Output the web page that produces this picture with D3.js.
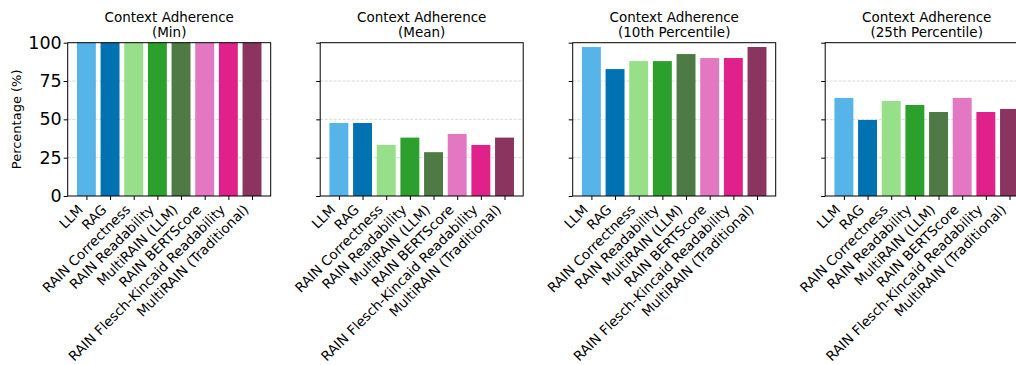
<!DOCTYPE html>
<html>
<head>
<meta charset="utf-8">
<script src="https://cdn.jsdelivr.net/npm/d3@7"></script>
<style>
  html, body { margin: 0; padding: 0; background: #fff; }
  svg { display: block; }
  text { font-family: "DejaVu Sans", sans-serif; fill: #000; }
</style>
</head>
<body>
<script>
// Methods compared in every panel
const methods = [
  "LLM", "RAG", "RAIN Correctness", "RAIN Readability", "MultiRAIN (LLM)",
  "RAIN BERTScore", "RAIN Flesch-Kincaid Readability", "MultiRAIN (Traditional)"
];
const methodColors = [
  "#56B4E9", "#0072B2", "#98DF8A", "#2CA02C", "#4E7B45",
  "#E377C2", "#E0218A", "#8B3460"
];

// Panel titles (statistic shown)
const panelTitles = ["(Min)", "(Mean)", "(10th Percentile)", "(25th Percentile)"];

// Context adherence (%) per statistic
const minValues = [100, 100, 100, 100, 100, 100, 100, 100];
const meanValues = [47.6, 47.6, 33.3, 38.1, 28.6, 40.5, 33.3, 38.1];
const p10Values = [97.2, 82.8, 88.0, 88.0, 92.6, 90.0, 90.0, 97.2];
const p25Values = [64.0, 49.6, 62.0, 59.4, 54.8, 64.0, 54.8, 56.8];

const yTicks = [0, 25, 50, 75, 100];

const panelValues = [minValues, meanValues, p10Values, p25Values];

const W = 1016, H = 365;
const svg = d3.select("body").append("svg").attr("width", W).attr("height", H);

const plotTop = 42.7, plotBottom = 196, plotW = 203;
const firstLeft = 67.7, panelStep = 252.5;

const y = d3.scaleLinear().domain([0, 100]).range([plotBottom, plotTop]);

panelValues.forEach((vals, p) => {
  const left = firstLeft + p * panelStep;
  const g = svg.append("g");

  // matplotlib-style band: bars of width 0.8 with 5% margins
  const x = d3.scaleLinear()
    .domain([-0.79, methods.length - 1 + 0.79])
    .range([left, left + plotW]);

  // dashed horizontal grid
  g.selectAll("line.grid").data(yTicks.filter(t => t > 0 && t < 100)).join("line")
    .attr("class", "grid")
    .attr("x1", left).attr("x2", left + plotW)
    .attr("y1", d => y(d)).attr("y2", d => y(d))
    .attr("stroke", "#b0b0b0").attr("stroke-opacity", 0.6)
    .attr("stroke-width", 0.8).attr("stroke-dasharray", "3,1.5");

  // bars
  g.selectAll("rect.bar").data(vals).join("rect")
    .attr("class", "bar")
    .attr("x", (d, i) => x(i - 0.4))
    .attr("width", (d, i) => x(i + 0.4) - x(i - 0.4))
    .attr("y", d => y(d))
    .attr("height", d => y(0) - y(d))
    .attr("fill", (d, i) => methodColors[i]);

  // y axis
  const yAxis = d3.axisLeft(y).tickValues(yTicks).tickSize(4).tickPadding(2)
    .tickFormat(p === 0 ? d3.format("d") : () => "");
  const ya = g.append("g").attr("transform", `translate(${left},0)`).call(yAxis);
  ya.select(".domain").remove();
  ya.selectAll(".tick line").attr("stroke", "#000").attr("stroke-width", 1);
  ya.selectAll(".tick text").attr("font-size", 17.5).attr("font-family", "DejaVu Sans")
    .attr("fill", "#000");

  // x axis ticks
  const xAxis = d3.axisBottom(x).tickValues(d3.range(methods.length)).tickSize(4)
    .tickFormat(() => "");
  const xa = g.append("g").attr("transform", `translate(0,${plotBottom})`).call(xAxis);
  xa.select(".domain").remove();
  xa.selectAll(".tick line").attr("stroke", "#000").attr("stroke-width", 1);

  // rotated category labels
  g.selectAll("text.xl").data(methods).join("text")
    .attr("class", "xl")
    .attr("font-size", 13.6)
    .attr("text-anchor", "end")
    .attr("transform", (d, i) => `translate(${x(i) - 2.5},${plotBottom + 14.5}) rotate(-45)`)
    .text(d => d);

  // frame
  g.append("rect")
    .attr("x", left).attr("y", plotTop)
    .attr("width", plotW).attr("height", plotBottom - plotTop)
    .attr("fill", "none").attr("stroke", "#000").attr("stroke-width", 1);

  // title
  const cx = left + plotW / 2;
  g.append("text").attr("x", cx).attr("y", 22).attr("text-anchor", "middle")
    .attr("font-size", 13.5).text("Context Adherence");
  g.append("text").attr("x", cx).attr("y", 37).attr("text-anchor", "middle")
    .attr("font-size", 13.5).text(panelTitles[p]);
});

// shared y label
svg.append("text")
  .attr("transform", `translate(21,${(plotTop + plotBottom) / 2}) rotate(-90)`)
  .attr("text-anchor", "middle").attr("font-size", 13)
  .text("Percentage (%)");
</script>
</body>
</html>
